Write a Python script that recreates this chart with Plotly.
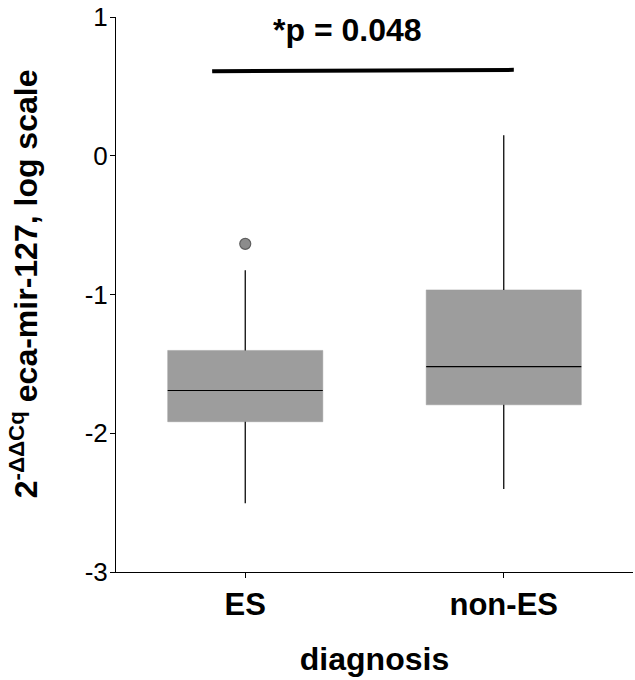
import plotly.graph_objects as go

# ---- data (log-scale values) ----
categories = ["ES", "non-ES"]
cat_pos = [0, 1]
q1 = [-1.917, -1.795]
median = [-1.692, -1.520]
q3 = [-1.403, -0.967]
lower_fence = [-2.504, -2.401]
upper_fence = [-0.826, 0.148]
outlier_cat = [0]
outlier_val = [-0.635]

y_tickvals = [1, 0, -1, -2, -3]
p_label = "*p = 0.048"
sig_bar_x = [-0.128, 1.039]
sig_bar_y = [0.609, 0.619]
p_label_pos = [0.397, 0.905]

FONT = "Liberation Sans, Arial, sans-serif"
BOX_GRAY = "#9d9d9d"
BOX_W = 0.6

fig = go.Figure()

fig.add_trace(go.Box(
    x=cat_pos, q1=q1, median=median, q3=q3,
    lowerfence=lower_fence, upperfence=upper_fence,
    width=BOX_W, whiskerwidth=0,
    fillcolor=BOX_GRAY, line=dict(color=BOX_GRAY, width=0.5),
    boxpoints=False, showlegend=False, hoverinfo="skip",
))

# whiskers & medians in black
for i, c in enumerate(cat_pos):
    fig.add_trace(go.Scatter(x=[c, c], y=[q3[i], upper_fence[i]], mode="lines",
                             line=dict(color="black", width=1.2), showlegend=False, hoverinfo="skip"))
    fig.add_trace(go.Scatter(x=[c, c], y=[lower_fence[i], q1[i]], mode="lines",
                             line=dict(color="black", width=1.2), showlegend=False, hoverinfo="skip"))
    fig.add_trace(go.Scatter(x=[c - BOX_W / 2, c + BOX_W / 2], y=[median[i], median[i]], mode="lines",
                             line=dict(color="black", width=1.2), showlegend=False, hoverinfo="skip"))

fig.add_trace(go.Scatter(
    x=outlier_cat, y=outlier_val, mode="markers",
    marker=dict(size=11, color="#8c8c8c", line=dict(color="#5e5e5e", width=1.2)),
    showlegend=False, hoverinfo="skip",
))

# significance bar
fig.add_trace(go.Scatter(x=sig_bar_x, y=sig_bar_y, mode="lines",
                         line=dict(color="black", width=4), showlegend=False, hoverinfo="skip"))
fig.add_annotation(x=p_label_pos[0], y=p_label_pos[1], xref="x", yref="y",
                   text="<b>" + p_label + "</b>", showarrow=False,
                   font=dict(family=FONT, size=32, color="black"))

# y-axis title
fig.add_annotation(x=-0.178, y=0.52, xref="paper", yref="paper",
                   xanchor="center", yanchor="middle", textangle=-90,
                   text="<b>2<sup>-ΔΔCq</sup> eca-mir-127, log scale</b>", showarrow=False,
                   font=dict(family=FONT, size=32, color="black"))

fig.update_layout(
    width=635, height=680,
    margin=dict(l=116, r=2, t=14, b=108),
    paper_bgcolor="white", plot_bgcolor="white",
    font=dict(family=FONT, color="black"),
)

fig.update_xaxes(
    range=[-0.5, 1.5], tickvals=cat_pos, ticktext=["<b>%s</b>" % c for c in categories],
    tickfont=dict(family=FONT, size=31, color="black"),
    showline=True, linecolor="black", linewidth=1,
    ticks="outside", ticklen=5, tickcolor="black", tickwidth=1,
    showgrid=False, zeroline=False,
    title=dict(text="<b>diagnosis</b>", font=dict(family=FONT, size=32, color="black"), standoff=26),
)

fig.update_yaxes(
    range=[-3, 1], tickvals=y_tickvals, ticktext=[str(v) if v >= 0 else "-" + str(-v) for v in y_tickvals],
    tickfont=dict(family=FONT, size=26, color="black"),
    showline=True, linecolor="black", linewidth=1,
    ticks="outside", ticklen=5, tickcolor="black", tickwidth=1,
    ticklabelstandoff=-3, ticklabeloverflow="allow",
    showgrid=False, zeroline=False,
)

fig.write_html("out.html")
